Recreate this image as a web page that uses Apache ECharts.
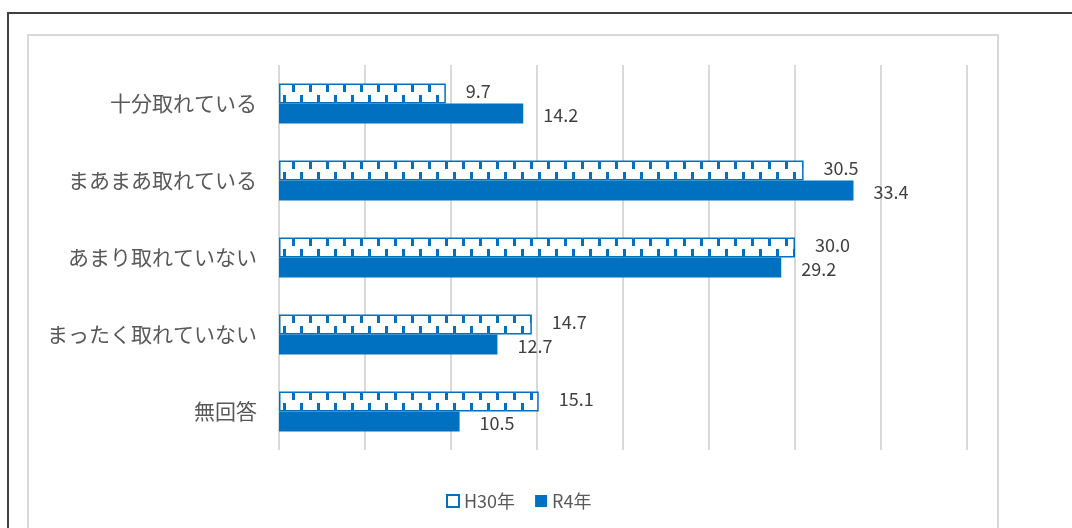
<!DOCTYPE html>
<html>
<head>
<meta charset="utf-8">
<script src="https://cdn.jsdelivr.net/npm/echarts@6/dist/echarts.min.js"></script>
<style>
  html, body { margin:0; padding:0; background:#fff; }
  #outer { position:absolute; left:7px; top:12px; width:1080px; height:530px; border-left:2px solid #404040; border-top:2px solid #404040; }
  #inner { position:absolute; left:27px; top:34px; width:968px; height:520px; border:2px solid #d9d9d9; }
  #chart { position:absolute; left:0; top:0; width:1072px; height:528px; }
</style>
</head>
<body>
<div id="outer"></div>
<div id="inner"></div>
<div id="chart"></div>
<script>
const categories = ['十分取れている', 'まあまあ取れている', 'あまり取れていない', 'まったく取れていない', '無回答'];
const seriesNames = ['H30年', 'R4年'];
const h30Values = [9.7, 30.5, 30.0, 14.7, 15.1];
const r4Values = [14.2, 33.4, 29.2, 12.7, 10.5];

const BLUE = '#0070C0';

// hatch tile: aligned to category band height (77px)
const tile = document.createElement('canvas');
tile.width = 17; tile.height = 77;
const tc = tile.getContext('2d');
tc.fillStyle = '#ffffff';
tc.fillRect(0, 0, 17, 77);
tc.fillStyle = BLUE;
tc.fillRect(3, 7, 3, 8);
tc.fillRect(11, 18, 3, 8);

const chart = echarts.init(document.getElementById('chart'), null, { renderer: 'canvas' });
chart.setOption({
  animation: false,
  textStyle: { fontFamily: '"Noto Sans CJK JP", "Noto Sans", sans-serif' },
  grid: { left: 279, right: 105, top: 65, height: 385, containLabel: false },
  legend: {
    bottom: 13,
    left: 441,
    itemWidth: 12,
    itemHeight: 12,
    itemGap: 20,
    textStyle: { color: '#595959', fontSize: 18, fontFamily: '"Noto Sans CJK JP", sans-serif' },
    data: [
      { name: seriesNames[0], icon: 'rect', itemStyle: { color: '#fff', borderColor: BLUE, borderWidth: 2 } },
      { name: seriesNames[1], icon: 'rect', itemStyle: { color: BLUE } }
    ]
  },
  xAxis: {
    type: 'value', min: 0, max: 40, interval: 5,
    axisLabel: { show: false },
    axisLine: { show: false },
    axisTick: { show: false },
    splitLine: { show: true, lineStyle: { color: '#d9d9d9', width: 2 } }
  },
  yAxis: {
    type: 'category', data: categories, inverse: true,
    axisLine: { show: false },
    axisTick: { show: false },
    axisLabel: { color: '#595959', fontSize: 21, margin: 22 }
  },
  series: [
    {
      name: seriesNames[0], type: 'bar', data: h30Values,
      barWidth: 20, barGap: '0%',
      itemStyle: { color: { image: tile, repeat: 'repeat' }, borderColor: BLUE, borderWidth: 1.5 },
      label: { show: true, position: 'right', distance: 20, offset: [0, -2], color: '#404040', fontSize: 18,
               formatter: p => p.value.toFixed(1) }
    },
    {
      name: seriesNames[1], type: 'bar', data: r4Values,
      barWidth: 20, barGap: '0%',
      itemStyle: { color: BLUE },
      label: { show: true, position: 'right', distance: 20, offset: [0, 2], color: '#404040', fontSize: 18,
               formatter: p => p.value.toFixed(1) }
    }
  ]
});
</script>
</body>
</html>
